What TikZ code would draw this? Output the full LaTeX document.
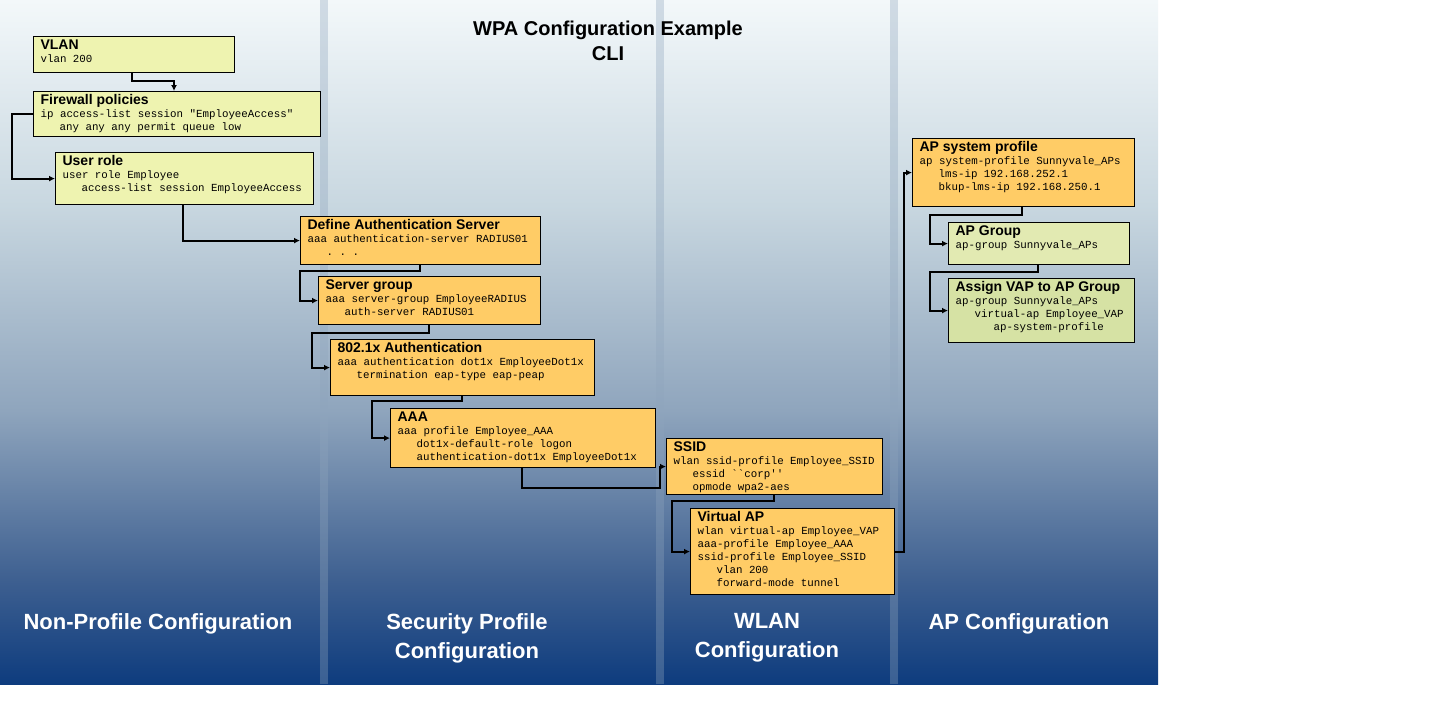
\documentclass[tikz,border=0pt]{standalone}
\usepackage{fontspec}
\setmainfont{Liberation Sans}
\setsansfont{Liberation Sans}
\setmonofont{Liberation Mono}
\usetikzlibrary{arrows.meta}
\definecolor{ylw}{HTML}{EEF3B0}
\definecolor{org}{HTML}{FFCC66}
\definecolor{grn1}{HTML}{E2EAB2}
\definecolor{grn2}{HTML}{D6E2A4}
\definecolor{bgA}{HTML}{0E3C7E}
\definecolor{bgB}{HTML}{3D5F90}
\definecolor{bgC}{HTML}{8FA5BD}
\definecolor{bgD}{HTML}{C8D7E0}
\definecolor{bgE}{HTML}{F3F8FA}
\pgfdeclareverticalshading{bgsh}{100bp}{color(0bp)=(bgA); color(25bp)=(bgA); color(32.5bp)=(bgB); color(45bp)=(bgC); color(60bp)=(bgD); color(75bp)=(bgE); color(100bp)=(bgE)}
\newcommand\bxt[1]{{\sffamily\bfseries\fontsize{7}{8.5}\selectfont #1}\par}
\newcommand\ind{\hspace*{9.5pt}}
\tikzset{
  box/.style={draw=black, line width=0.6pt, inner xsep=3.5pt, inner ysep=1.5pt, anchor=north west,
    font=\ttfamily\fontsize{5.4}{6.5}\selectfont},
  conn/.style={draw=black, line width=1.1pt, -{Latex[length=3pt,width=3pt]}},
  ttl/.style={font=\sffamily\bfseries\fontsize{10}{12.5}\selectfont, align=center},
  col/.style={font=\sffamily\bfseries\fontsize{11}{14.5}\selectfont, text=white, align=center, anchor=north},
  stripe/.style={fill=bgC, fill opacity=0.35, draw=none}
}
\begin{document}
\begin{tikzpicture}[x=0.5pt,y=-0.5pt]
\useasboundingbox (0,0) rectangle (1440,720);
\fill[white] (0,0) rectangle (1440,720);
\shade[shading=bgsh] (0,0) rectangle (1158,684);
\fill[stripe] (320,0) rectangle (328,684);
\fill[stripe] (656,0) rectangle (664,684);
\fill[stripe] (890,0) rectangle (898,684);

\node[ttl] (title) at (608,41) {WPA Configuration Example\\CLI};

\node[box, fill=ylw] (vlan) at (33,36) {\parbox[c][15pt][t]{93.5pt}{\bxt{VLAN}vlan 200}};
\node[box, fill=ylw] (fw) at (33,91) {\parbox[c][19.5pt][t]{136.5pt}{\bxt{Firewall policies}ip access-list session "EmployeeAccess"\\\ind any any any permit queue low}};
\node[box, fill=ylw] (ur) at (55,152) {\parbox[c][23pt][t]{122pt}{\bxt{User role}user role Employee\\\ind access-list session EmployeeAccess}};
\node[box, fill=org] (das) at (300,216) {\parbox[c][21pt][t]{113pt}{\bxt{Define Authentication Server}aaa authentication-server RADIUS01\\\ind . . .}};
\node[box, fill=org] (sg) at (318,276) {\parbox[c][21pt][t]{104pt}{\bxt{Server group}aaa server-group EmployeeRADIUS\\\ind auth-server RADIUS01}};
\node[box, fill=org] (dot) at (330,339) {\parbox[c][25pt][t]{125pt}{\bxt{802.1x Authentication}aaa authentication dot1x EmployeeDot1x\\\ind termination eap-type eap-peap}};
\node[box, fill=org] (aaa) at (390,408) {\parbox[c][26.5pt][t]{125.5pt}{\bxt{AAA}aaa profile Employee\_AAA\\\ind dot1x-default-role logon\\\ind authentication-dot1x EmployeeDot1x}};
\node[box, fill=org] (ssid) at (666,438) {\parbox[c][25pt][t]{101pt}{\bxt{SSID}wlan ssid-profile Employee\_SSID\\\ind essid ``corp''\\\ind opmode wpa2-aes}};
\node[box, fill=org] (vap) at (690,508) {\parbox[c][40pt][t]{95pt}{\bxt{Virtual AP}wlan virtual-ap Employee\_VAP\\aaa-profile Employee\_AAA\\ssid-profile Employee\_SSID\\\ind vlan 200\\\ind forward-mode tunnel}};
\node[box, fill=org] (aps) at (912,138) {\parbox[c][31pt][t]{104pt}{\bxt{AP system profile}ap system-profile Sunnyvale\_APs\\\ind lms-ip 192.168.252.1\\\ind bkup-lms-ip 192.168.250.1}};
\node[box, fill=grn1] (apg) at (948,222) {\parbox[c][18pt][t]{83.5pt}{\bxt{AP Group}ap-group Sunnyvale\_APs}};
\node[box, fill=grn2] (asg) at (948,278) {\parbox[c][29pt][t]{86pt}{\bxt{Assign VAP to AP Group}ap-group Sunnyvale\_APs\\\ind virtual-ap Employee\_VAP\\\ind\ind ap-system-profile}};

\draw[conn] ([xshift=49.5pt]vlan.south west) -- ++(0,8) -| ([xshift=70.5pt]fw.north west);
\draw[conn] (fw.west) -- ++(-21,0) |- (ur.west);
\draw[conn] ([xshift=64pt]ur.south west) |- (das.west);
\draw[conn] ([xshift=60pt]das.south west) -- ++(0,6) -| ([xshift=-9pt]sg.west) -- (sg.west);
\draw[conn] ([xshift=55.5pt]sg.south west) -- ++(0,8) -| ([xshift=-9pt]dot.west) -- (dot.west);
\draw[conn] ([xshift=66pt]dot.south west) -- ++(0,5) -| ([xshift=-9pt]aaa.west) -- (aaa.west);
\draw[conn] ([xshift=66pt]aaa.south west) -- ++(0,20) -| ([xshift=-3pt]ssid.west) -- (ssid.west);
\draw[conn] ([xshift=54pt]ssid.south west) -- ++(0,6) -| ([xshift=-9pt]vap.west) -- (vap.west);
\draw[conn] (vap.east) -- ++(9,0) |- (aps.west);
\draw[conn] ([xshift=55pt]aps.south west) -- ++(0,8) -| ([xshift=-9pt]apg.west) -- (apg.west);
\draw[conn] ([xshift=45pt]apg.south west) -- ++(0,7) -| ([xshift=-9pt]asg.west) -- (asg.west);

\node[col] (c1) at (158,606) {Non-Profile Configuration};
\node[col] (c2) at (467,606) {Security Profile\\Configuration};
\node[col] (c3) at (767,606) {WLAN\\Configuration};
\node[col] (c4) at (1019,606) {AP Configuration};
\end{tikzpicture}
\end{document}
